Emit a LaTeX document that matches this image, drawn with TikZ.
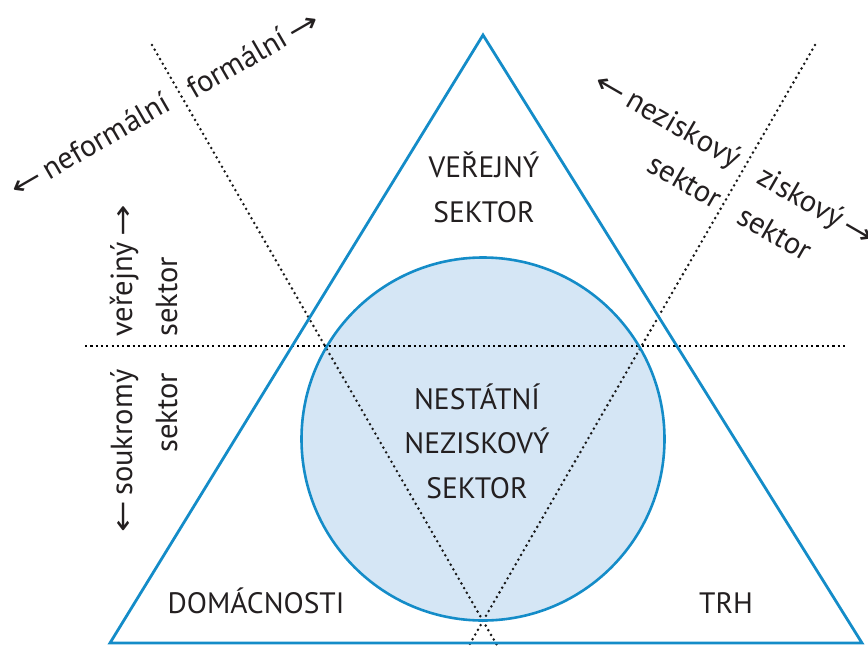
\documentclass[tikz,border=0pt]{standalone}
\usepackage{graphicx}
\usepackage{fontspec}
\setmainfont{PT Sans}
\newfontfamily\arrowfont{DejaVu Sans}
\newcommand{\larr}{\scalebox{1.45}[1.1]{\arrowfont\fontsize{26}{30}\selectfont ←}}
\newcommand{\rarr}{\scalebox{1.45}[1.1]{\arrowfont\fontsize{26}{30}\selectfont →}}
\definecolor{triblue}{RGB}{20,140,200}
\definecolor{circfill}{RGB}{213,230,245}
\definecolor{txt}{RGB}{35,31,32}
\tikzset{
  caplabel/.style={font=\fontsize{29.5}{34}\selectfont, text=txt, inner sep=0pt, anchor=base},
  sidelabel/.style={font=\fontsize{30.5}{36}\selectfont, text=txt, inner sep=0pt, anchor=base},
  dotline/.style={line width=2.8pt, dash pattern=on 0pt off 5.4pt, line cap=round, color=black!90},
  hdotline/.style={line width=2.2pt, dash pattern=on 2.2pt off 3.1pt, color=black},
  tri/.style={draw=triblue, line width=2.8pt, line join=miter},
}
\begin{document}
\begin{tikzpicture}[x=1pt,y=-1pt]
\useasboundingbox (0,0) rectangle (868,648);
% coordinates
\coordinate (A) at (483,35);
\coordinate (B) at (110,643);
\coordinate (C) at (862,643);
\coordinate (d1a) at (152,45);
\coordinate (d1b) at (498,647);
\coordinate (d2a) at (815,45);
\coordinate (d2b) at (468,647);
\coordinate (ha) at (85,346);
\coordinate (hb) at (845,346);
% circle fill
\node[circle, fill=circfill, minimum size=363pt, inner sep=0pt] (circ) at (483,439) {};
% dotted lines
\draw[dotline] (d1a) -- (d1b);
\draw[dotline] (d2a) -- (d2b);
\draw[hdotline] (ha) -- (hb);
% circle stroke
\draw[triblue, line width=2.6pt] (circ.center) circle[radius=181.5pt];
% triangle
\draw[tri] (A) -- (B) -- (C) -- cycle;
% main labels
\node[caplabel] (v1) at (484,177) {VEŘEJNÝ};
\node[caplabel] (v2) at (484,222) {SEKTOR};
\node[caplabel] (n1) at (477,409) {NESTÁTNÍ};
\node[caplabel] (n2) at (477,453) {NEZISKOVÝ};
\node[caplabel] (n3) at (477,498) {SEKTOR};
\node[caplabel] (dom) at (256,613) {DOMÁCNOSTI};
\node[caplabel] (trh) at (726,613) {TRH};
% side labels
\node[sidelabel, rotate=30] (nef) at (95,154) {\larr\,neformální};
\node[sidelabel, rotate=30] (form) at (258,63) {formální\,\rarr};
\node[sidelabel, rotate=-30] (nez1) at (663,128) {\larr\,neziskový};
\node[sidelabel, rotate=-30] (nez2) at (680,190) {sektor};
\node[sidelabel, rotate=-30, anchor=base west] (zis1) at (755,182) {ziskový\,\rarr};
\node[sidelabel, rotate=-30, anchor=base west] (zis2) at (735,222) {sektor};
\node[sidelabel, rotate=90] (ver1) at (132,271) {veřejný\,\rarr};
\node[sidelabel, rotate=90] (ver2) at (177,297) {sektor};
\node[sidelabel, rotate=90] (sou1) at (132,451) {\larr\,soukromý};
\node[sidelabel, rotate=90] (sou2) at (177,413) {sektor};
\end{tikzpicture}
\end{document}
